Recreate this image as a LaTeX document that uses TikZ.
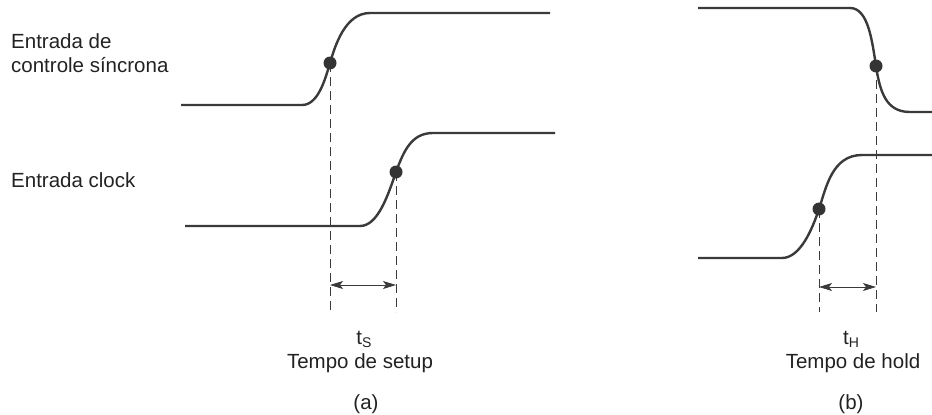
\documentclass[tikz,border=0pt]{standalone}
\usepackage{fontspec}
\setmainfont{Liberation Sans}
\usetikzlibrary{arrows.meta}
\definecolor{sig}{HTML}{3A3A3A}
\definecolor{txt}{HTML}{222222}
\begin{document}
\begin{tikzpicture}[x=1pt,y=-1pt,
  signal/.style={draw=sig, line width=2.4pt, line join=round},
  guide/.style={draw=sig, line width=0.8pt, dash pattern=on 9pt off 5pt},
  measure/.style={draw=sig, line width=0.8pt, {Stealth[length=13pt,width=8pt,inset=3pt]}-{Stealth[length=13pt,width=8pt,inset=3pt]}},
  sdot/.style={circle, fill=sig!90!black, inner sep=0pt, minimum size=13pt},
  lbl/.style={text=txt, font=\fontsize{20.5}{24}\selectfont, inner sep=0pt}]
\useasboundingbox (0,0) rectangle (932,415);

% ---------- (a) ----------
\coordinate (a1) at (330,63);
\coordinate (a2) at (396,172);
\draw[signal] (181,105) -- (302,105) .. controls (318,105) and (325,80) .. (a1)
  .. controls (335,46) and (345,13) .. (370,13) -- (550,13);
\draw[signal] (185,226) -- (360,226) .. controls (378,226) and (388,195) .. (a2)
  .. controls (404,150) and (412,133) .. (433,133) -- (555,133);
\coordinate (a1b) at (330,312);
\coordinate (a2b) at (396,312);
\draw[guide] (a1) -- (a1b);
\draw[guide] (a2) -- (a2b);
\coordinate (a1m) at (330,285);
\coordinate (a2m) at (396,285);
\draw[measure] (a1m) -- (a2m);
\node[sdot] (da1) at (a1) {};
\node[sdot] (da2) at (a2) {};

\node[lbl, anchor=base west] (l1) at (11,48) {Entrada de};
\node[lbl, anchor=base west] (l2) at (11,72) {controle síncrona};
\node[lbl, anchor=base west] (l3) at (11,187) {Entrada clock};

\node[lbl, anchor=base] (ts) at (364,344) {t\raisebox{-3.5pt}{\fontsize{14}{14}\selectfont S}};
\node[lbl, anchor=base] (tsl) at (360,368) {Tempo de setup};
\node[lbl, anchor=base] (pa) at (366,409) {(a)};

% ---------- (b) ----------
\coordinate (b1) at (876,66);
\coordinate (b2) at (819,209);
\draw[signal] (698,8) -- (850,8) .. controls (868,8) and (872,40) .. (b1)
  .. controls (880,92) and (886,112) .. (910,112) -- (934,112);
\draw[signal] (698,258) -- (782,258) .. controls (800,258) and (812,230) .. (b2)
  .. controls (826,188) and (832,155) .. (862,155) -- (934,155);
\coordinate (b1b) at (876,312);
\coordinate (b2b) at (819,312);
\draw[guide] (b1) -- (b1b);
\draw[guide] (b2) -- (b2b);
\coordinate (b2m) at (819,287);
\coordinate (b1m) at (876,287);
\draw[measure] (b2m) -- (b1m);
\node[sdot] (db1) at (b1) {};
\node[sdot] (db2) at (b2) {};

\node[lbl, anchor=base] (th) at (851,344) {t\raisebox{-3.5pt}{\fontsize{14}{14}\selectfont H}};
\node[lbl, anchor=base] (thl) at (853,368) {Tempo de hold};
\node[lbl, anchor=base] (pb) at (851,409) {(b)};
\end{tikzpicture}
\end{document}
